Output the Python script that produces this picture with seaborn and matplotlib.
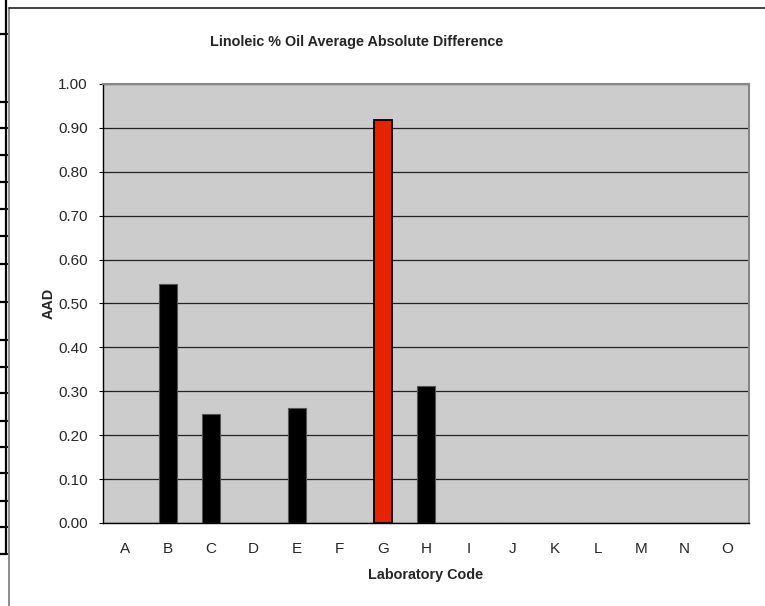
import matplotlib
matplotlib.use("Agg")
import matplotlib.pyplot as plt
import seaborn as sns
import pandas as pd
from matplotlib.lines import Line2D

labs = ["A", "B", "C", "D", "E", "F", "G", "H", "I", "J", "K", "L", "M", "N", "O"]
aad = [0, 0.544, 0.248, 0, 0.262, 0, 0.918, 0.312, 0, 0, 0, 0, 0, 0, 0]
flag = ["ok", "ok", "ok", "ok", "ok", "ok", "high", "ok", "ok", "ok", "ok", "ok", "ok", "ok", "ok"]
yticks = [0.0, 0.1, 0.2, 0.3, 0.4, 0.5, 0.6, 0.7, 0.8, 0.9, 1.0]

df = pd.DataFrame({"lab": labs, "aad": aad, "flag": flag})

sns.set_style("white")
plt.rcParams["font.family"] = ["Liberation Sans", "DejaVu Sans"]

fig = plt.figure(figsize=(7.65, 6.06), dpi=100)
ax = fig.add_axes([103 / 765, 1 - 523 / 606, 646 / 765, 439 / 606])
ax.set_facecolor("#cccccc")

sns.barplot(data=df, x="lab", y="aad", hue="flag", palette={"ok": "black", "high": "#e62200"},
            width=0.42, dodge=False, legend=False, saturation=1, ax=ax, zorder=3)
for p in ax.patches:
    r, g, b, a = p.get_facecolor()
    if r > 0.5:
        p.set_edgecolor("black")
        p.set_linewidth(1.3)
    else:
        p.set_edgecolor("#555555")
        p.set_linewidth(0.8)

ax.set_ylim(0, 1)
ax.set_xlim(-0.5, len(labs) - 0.5)
ax.set_yticks(yticks)
ax.set_yticklabels([f"{v:.2f}" for v in yticks], fontsize=11)
ax.yaxis.grid(True, color="#222222", linewidth=0.9, zorder=0)
ax.set_axisbelow(True)
ax.set_xticks(range(len(labs)))
ax.set_xticklabels(labs, fontsize=11)
ax.tick_params(axis="x", length=0, pad=14)
ax.set_xticks([i - 0.5 for i in range(len(labs) + 1)], minor=True)
ax.tick_params(axis="x", which="minor", length=3.5, width=0.8, color="black", direction="out")
ax.tick_params(axis="y", length=3, width=0.8, color="black", direction="out", left=True, pad=8)

for s in ["left", "bottom"]:
    ax.spines[s].set_color("black")
    ax.spines[s].set_linewidth(1.0)
for s in ["top", "right"]:
    ax.spines[s].set_color("#888888")
    ax.spines[s].set_linewidth(1.5)

ax.set_xlabel("Laboratory Code", fontsize=10.4, fontweight="bold", labelpad=8)
ax.set_ylabel("AAD", fontsize=10.4, fontweight="bold", labelpad=2)
fig.text(357 / 765, 1 - 42 / 606, "Linoleic % Oil Average Absolute Difference",
         fontsize=10.4, fontweight="bold", ha="center", va="center")

# chart frame and table fragment at the left edge
fig.add_artist(Line2D([9 / 765, 9 / 765], [0, 1 - 8 / 606], color="#777777", linewidth=1.2))
fig.add_artist(Line2D([9 / 765, 1], [1 - 8 / 606, 1 - 8 / 606], color="#222222", linewidth=1.2))
fig.add_artist(Line2D([6 / 765, 6 / 765], [1 - 554 / 606, 1], color="black", linewidth=1.6))
for yy in [34, 102, 128, 155, 182, 209, 236, 264, 302, 340, 367, 393, 421, 447, 473, 501, 527, 554]:
    fig.add_artist(Line2D([0, 7 / 765], [1 - yy / 606, 1 - yy / 606], color="black", linewidth=1.6))

fig.savefig("out.png", dpi=100)
